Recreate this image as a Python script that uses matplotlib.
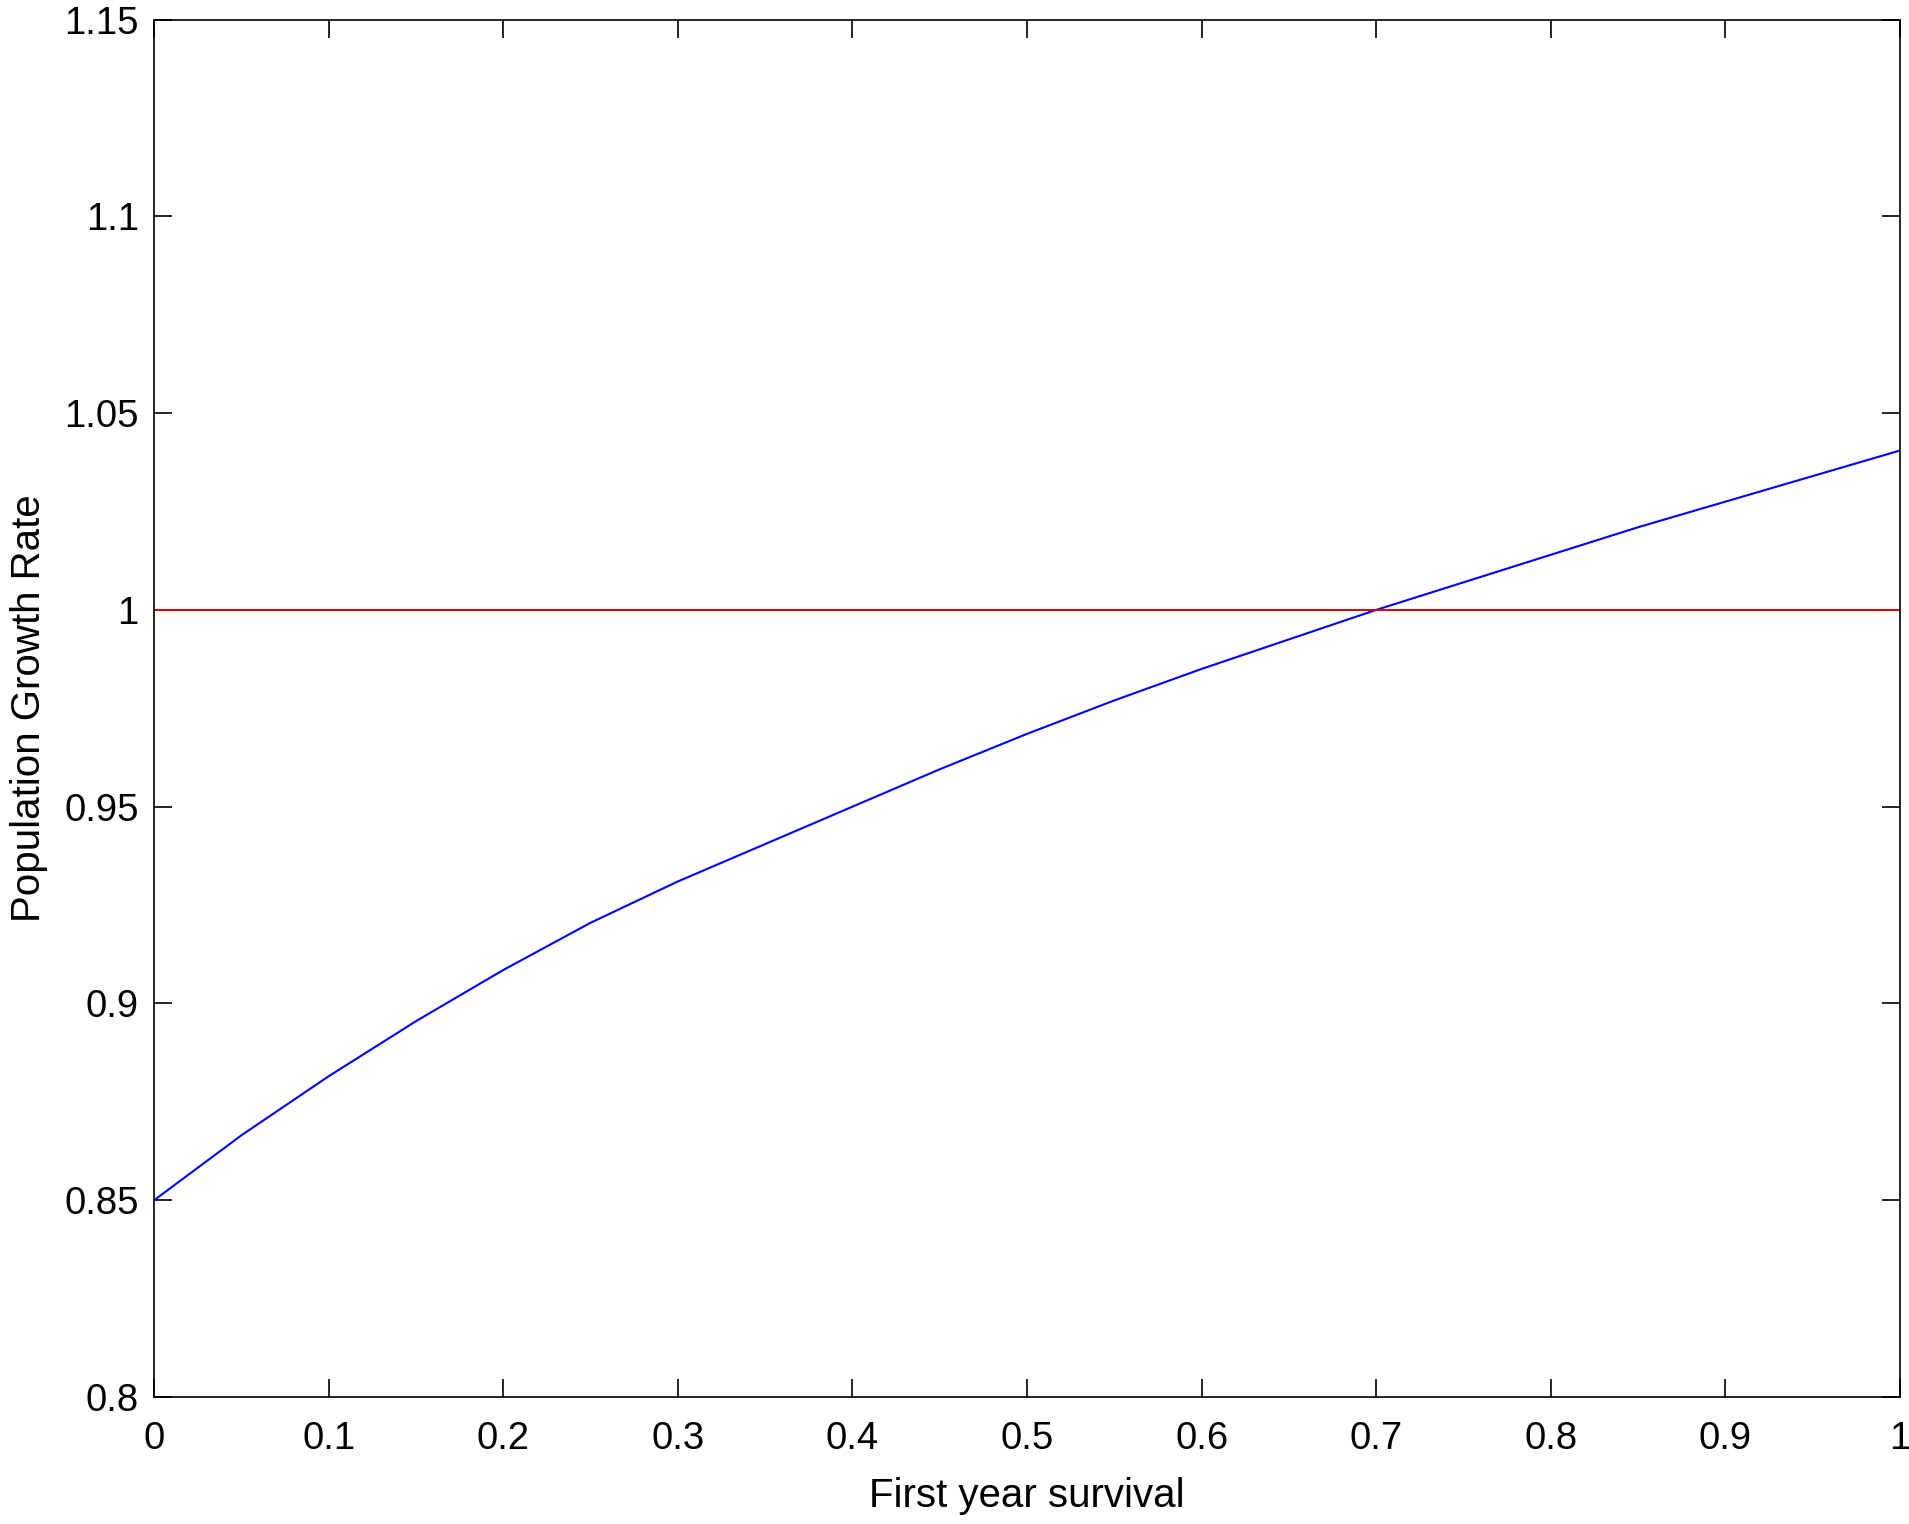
import matplotlib
matplotlib.use("Agg")
import matplotlib.pyplot as plt

# first year survival vs. population growth rate
survival = [0.00, 0.05, 0.10, 0.15, 0.20, 0.25, 0.30, 0.35, 0.40, 0.45, 0.50,
            0.55, 0.60, 0.65, 0.70, 0.75, 0.80, 0.85, 0.90, 0.95, 1.00]
growth_rate = [0.8500, 0.8665, 0.8815, 0.8955, 0.9085, 0.9205, 0.9310, 0.9405,
               0.9500, 0.9595, 0.9685, 0.9770, 0.9850, 0.9925, 1.0000, 1.0070,
               1.0140, 1.0210, 1.0275, 1.0340, 1.0405]
threshold = 1.0

x_ticks = [0, 0.1, 0.2, 0.3, 0.4, 0.5, 0.6, 0.7, 0.8, 0.9, 1]
x_labels = ['0', '0.1', '0.2', '0.3', '0.4', '0.5', '0.6', '0.7', '0.8', '0.9', '1']
y_ticks = [0.8, 0.85, 0.9, 0.95, 1.0, 1.05, 1.1, 1.15]
y_labels = ['0.8', '0.85', '0.9', '0.95', '1', '1.05', '1.1', '1.15']

plt.rcParams['font.family'] = ['Liberation Sans', 'DejaVu Sans']

fig = plt.figure(figsize=(19.09, 15.24), dpi=100)
ax = fig.add_axes([0.0807, 0.0833, 0.9146, 0.9039])

ax.plot(survival, growth_rate, color='#0000ff', linewidth=1.5)
ax.axhline(threshold, color='#dd0000', linewidth=1.4)

ax.set_xlim(0, 1)
ax.set_ylim(0.8, 1.15)
ax.set_xticks(x_ticks)
ax.set_xticklabels(x_labels)
ax.set_yticks(y_ticks)
ax.set_yticklabels(y_labels)

ax.tick_params(axis='both', direction='in', length=13, width=1.2,
               top=True, right=True, labelsize=27.5)
ax.tick_params(axis='x', pad=17)
ax.tick_params(axis='y', pad=11)
for sp in ax.spines.values():
    sp.set_linewidth(1.2)

ax.set_xlabel('First year survival', fontsize=29, labelpad=15)
ax.set_ylabel('Population Growth Rate', fontsize=29, labelpad=12)

fig.savefig('out.png', dpi=100)
